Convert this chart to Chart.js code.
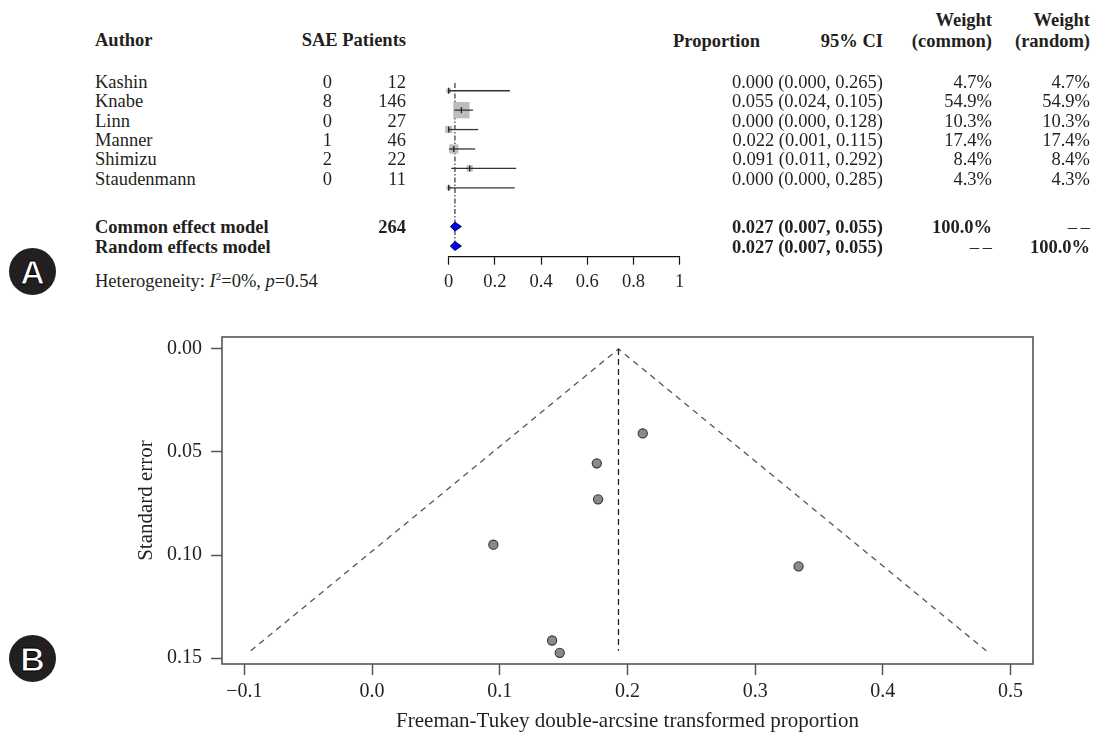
<!DOCTYPE html>
<html lang="en">
<head>
  <meta charset="UTF-8">
  <title>Forest plot and funnel plot</title>
  <script src="https://cdn.jsdelivr.net/npm/chart.js"></script>
  <style>
    body { margin: 0; background: #fff; }
    #page {
      position: relative;
      width: 1095px;
      height: 736px;
      overflow: hidden;
      font-family: "Liberation Serif", "Times New Roman", serif;
      color: #231f20;
    }
    .t { position: absolute; font-size: 18.5px; line-height: 20px; white-space: nowrap; }
    .b { font-weight: bold; }
    .t sup { font-size: 11px; vertical-align: 7px; line-height: 0; }
    .badge {
      position: absolute;
      width: 47px; height: 47px;
      border-radius: 50%;
      background: #231f20;
      color: #fff;
      font: bold 34px "Liberation Sans", Arial, sans-serif;
      text-align: center;
      line-height: 48px;
      -webkit-text-stroke: 1px #000;
    }
    .wrap { position: absolute; }
  </style>
</head>
<body>
<div id="page">
  <div class="badge" style="left:9px; top:248px;">A</div>
  <div class="badge" style="left:9px; top:635px;">B</div>
  <div class="wrap" style="left:430px; top:60px;"><canvas id="forest" width="270" height="240"></canvas></div>
  <div class="wrap" style="left:0px; top:300px;"><canvas id="funnel" width="1095" height="436"></canvas></div>
</div>

<script>
  // --- forest plot data (panel A)
  const authors = ['Kashin', 'Knabe', 'Linn', 'Manner', 'Shimizu', 'Staudenmann'];
  const events = [0, 8, 0, 1, 2, 0];
  const patients = [12, 146, 27, 46, 22, 11];
  const proportion = [0.000, 0.055, 0.000, 0.022, 0.091, 0.000];
  const ciLower = [0.000, 0.024, 0.000, 0.001, 0.011, 0.000];
  const ciUpper = [0.265, 0.105, 0.128, 0.115, 0.292, 0.285];
  const weightCommon = [4.7, 54.9, 10.3, 17.4, 8.4, 4.3];
  const weightRandom = [4.7, 54.9, 10.3, 17.4, 8.4, 4.3];

  const pooledLabels = ['Common effect model', 'Random effects model'];
  const pooledEst = [0.027, 0.027];
  const pooledLower = [0.007, 0.007];
  const pooledUpper = [0.055, 0.055];
  const dash2 = '\u2013\u2009\u2013';
  const pooledWeightCommon = ['100.0%', dash2];
  const pooledWeightRandom = [dash2, '100.0%'];
  const totalPatients = 264;
  const forestTicks = [0, 0.2, 0.4, 0.6, 0.8, 1];

  // --- funnel plot data (panel B)
  const funnelX = [0.212, 0.176, 0.177, 0.095, 0.334, 0.141, 0.147];
  const funnelSE = [0.041, 0.0555, 0.073, 0.095, 0.1055, 0.1415, 0.1475];
  const funnelCentre = 0.193;
  const funnelSEmax = 0.1465;
  const funnelLeft = -0.095;
  const funnelRight = 0.481;
  const funnelXTicks = [-0.1, 0, 0.1, 0.2, 0.3, 0.4, 0.5];
  const funnelYTicks = [0, 0.05, 0.10, 0.15];

  const serif = '"Liberation Serif", "Times New Roman", serif';
  Chart.defaults.font.family = serif;
  Chart.defaults.color = '#231f20';

  // text table of panel A
  const page = document.getElementById('page');
  function put(html, x, y, align, cls) {
    const d = document.createElement('div');
    d.className = 't ' + (cls || '');
    d.innerHTML = html;
    d.style.top = (y - 10) + 'px';
    if (align === 'right') d.style.right = (1095 - x) + 'px';
    else d.style.left = x + 'px';
    page.appendChild(d);
  }

  put('Author', 95, 40, 'left', 'b');
  put('SAE Patients', 406, 40, 'right', 'b');
  put('Proportion', 673, 41, 'left', 'b');
  put('95% CI', 883, 41, 'right', 'b');
  put('Weight', 992, 20, 'right', 'b');
  put('(common)', 992, 41, 'right', 'b');
  put('Weight', 1090, 20, 'right', 'b');
  put('(random)', 1090, 41, 'right', 'b');

  authors.forEach((a, i) => {
    const y = 82 + i * 19.3;
    put(a, 95, y, 'left');
    put(events[i], 332, y, 'right');
    put(patients[i], 406, y, 'right');
    put(proportion[i].toFixed(3) + ' (' + ciLower[i].toFixed(3) + ', ' + ciUpper[i].toFixed(3) + ')', 883, y, 'right');
    put(weightCommon[i].toFixed(1) + '%', 992, y, 'right');
    put(weightRandom[i].toFixed(1) + '%', 1090, y, 'right');
  });

  pooledLabels.forEach((lab, j) => {
    const y = 227 + j * 19.5;
    put(lab, 95, y, 'left', 'b');
    if (j === 0) put(totalPatients, 406, y, 'right', 'b');
    put(pooledEst[j].toFixed(3) + ' (' + pooledLower[j].toFixed(3) + ', ' + pooledUpper[j].toFixed(3) + ')', 883, y, 'right', 'b');
    put(pooledWeightCommon[j], 992, y, 'right', pooledWeightCommon[j].indexOf('%') < 0 ? '' : 'b');
    put(pooledWeightRandom[j], 1090, y, 'right', pooledWeightRandom[j].indexOf('%') < 0 ? '' : 'b');
  });

  put('Heterogeneity: <i>I</i><sup>2</sup>=0%, <i>p</i>=0.54', 95, 281, 'left');

  // forest plot
  const estMarks = {
    type: 'scatter',
    data: proportion.map((p, i) => ({ x: p, y: i })),
    pointStyle: 'line',
    rotation: 90,
    pointRadius: 3,
    borderColor: '#222',
    borderWidth: 1.3,
    clip: false
  };
  const ciLines = authors.map((a, i) => ({
    type: 'line',
    data: [{ x: ciLower[i], y: i }, { x: ciUpper[i], y: i }],
    borderColor: '#333',
    borderWidth: 1.3,
    pointRadius: 0,
    clip: false
  }));
  const diamonds = pooledLabels.map((lab, j) => {
    const r = 7 + j;
    return {
      type: 'line',
      data: [
        { x: pooledLower[j], y: r }, { x: pooledEst[j], y: r - 0.23 },
        { x: pooledUpper[j], y: r }, { x: pooledEst[j], y: r + 0.23 },
        { x: pooledLower[j], y: r }
      ],
      fill: 'shape',
      backgroundColor: '#0000ee',
      borderColor: '#00005a',
      borderWidth: 1,
      pointRadius: 0,
      clip: false
    };
  });
  const boxes = {
    type: 'scatter',
    data: proportion.map((p, i) => ({ x: p, y: i })),
    pointStyle: 'rect',
    pointRadius: weightCommon.map(w => 2.2 * Math.sqrt(w) / Math.SQRT2),
    backgroundColor: '#bdbdbd',
    borderWidth: 0,
    clip: false
  };
  const refLine = {
    type: 'line',
    data: [{ x: pooledEst[0], y: -0.4 }, { x: pooledEst[0], y: 8.2 }],
    borderColor: '#444',
    borderWidth: 1.3,
    borderDash: [5, 2, 1.5, 2],
    pointRadius: 0,
    clip: false
  };

  new Chart(document.getElementById('forest'), {
    type: 'scatter',
    data: { datasets: [estMarks, ...ciLines, ...diamonds, boxes, refLine] },
    options: {
      responsive: false,
      devicePixelRatio: 1,
      animation: false,
      events: [],
      layout: { padding: { left: 18.7, right: 20.3, top: 10, bottom: 0 } },
      plugins: { legend: { display: false }, tooltip: { enabled: false } },
      scales: {
        x: {
          type: 'linear', min: 0, max: 1,
          afterBuildTicks: s => { s.ticks = forestTicks.map(v => ({ value: v })); },
          afterFit: s => { s.height = 43.3; },
          grid: { drawOnChartArea: false, drawTicks: true, tickLength: 8, tickColor: '#111', tickWidth: 1.2 },
          border: { display: true, color: '#111', width: 1.2 },
          ticks: {
            padding: 6, autoSkip: false, maxRotation: 0, color: '#231f20',
            font: { family: serif, size: 18.5 },
            callback: v => (v === 0 ? '0' : v === 1 ? '1' : v.toFixed(1))
          }
        },
        y: { type: 'linear', display: false, min: -0.99, max: 8.55, reverse: true }
      }
    }
  });

  // funnel plot
  const boxPlugin = {
    id: 'rbox',
    afterDatasetsDraw(chart) {
      const a = chart.chartArea, ctx = chart.ctx;
      ctx.save();
      ctx.strokeStyle = '#555';
      ctx.lineWidth = 1.6;
      ctx.strokeRect(a.left, a.top, a.right - a.left, a.bottom - a.top);
      ctx.restore();
    }
  };

  new Chart(document.getElementById('funnel'), {
    type: 'scatter',
    data: {
      datasets: [
        {
          data: funnelX.map((x, i) => ({ x: x, y: funnelSE[i] })),
          pointRadius: 4.6,
          backgroundColor: '#8a8a8a',
          borderColor: '#333',
          borderWidth: 1.1
        },
        {
          type: 'line',
          data: [{ x: funnelCentre, y: 0 }, { x: funnelCentre, y: funnelSEmax }],
          borderColor: '#222',
          borderWidth: 1.3,
          borderDash: [6, 4],
          pointRadius: 0
        },
        {
          type: 'line',
          data: [{ x: funnelLeft, y: funnelSEmax }, { x: funnelCentre, y: 0 }, { x: funnelRight, y: funnelSEmax }],
          borderColor: '#555',
          borderWidth: 1.3,
          borderDash: [6, 5],
          pointRadius: 0
        }
      ]
    },
    options: {
      responsive: false,
      devicePixelRatio: 1,
      animation: false,
      events: [],
      layout: { padding: { left: 130, right: 62, top: 37, bottom: 0 } },
      plugins: { legend: { display: false }, tooltip: { enabled: false } },
      scales: {
        x: {
          type: 'linear', min: -0.1175, max: 0.5176,
          afterBuildTicks: s => { s.ticks = funnelXTicks.map(v => ({ value: v })); },
          afterFit: s => { s.height = 72; },
          grid: { drawOnChartArea: false, drawTicks: true, tickLength: 11, tickColor: '#555', tickWidth: 1.5 },
          border: { display: false },
          ticks: {
            padding: 5, autoSkip: false, maxRotation: 0, color: '#231f20',
            font: { family: serif, size: 20 },
            callback: v => (v < 0 ? '\u2212' + Math.abs(v).toFixed(1) : v.toFixed(1))
          },
          title: {
            display: true,
            text: 'Freeman-Tukey double-arcsine transformed proportion',
            color: '#231f20',
            font: { family: serif, size: 21 },
            padding: { top: 0, bottom: 2 }
          }
        },
        y: {
          type: 'linear', reverse: true, min: -0.0058, max: 0.1529,
          afterBuildTicks: s => { s.ticks = funnelYTicks.map(v => ({ value: v })); },
          afterFit: s => { s.width = 92; },
          grid: { drawOnChartArea: false, drawTicks: true, tickLength: 11, tickColor: '#555', tickWidth: 1.5 },
          border: { display: false },
          ticks: {
            padding: 9, color: '#231f20',
            font: { family: serif, size: 20 },
            callback: v => v.toFixed(2)
          },
          title: {
            display: true,
            text: 'Standard error',
            color: '#231f20',
            font: { family: serif, size: 21 },
            padding: { top: 4, bottom: 0 }
          }
        }
      }
    },
    plugins: [boxPlugin]
  });
</script>
</body>
</html>
